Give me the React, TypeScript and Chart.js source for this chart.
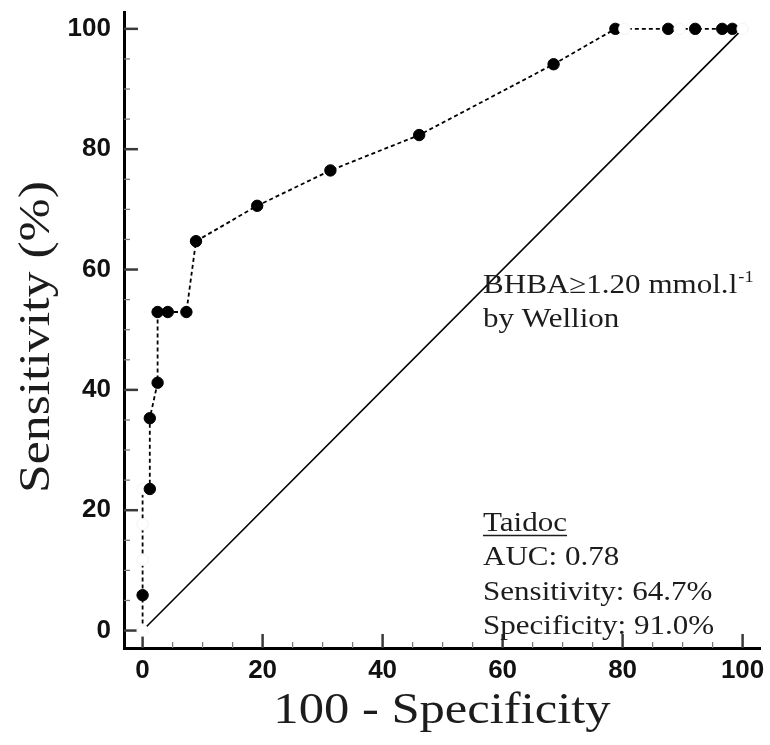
import { useEffect, useRef } from 'react';
import { Chart, registerables } from 'chart.js';

Chart.register(...registerables);

// ROC curve (Taidoc vs BHBA ≥ 1.20 mmol/l by Wellion)
const fprValues = [0, 0, 0, 0, 0, 1.2, 1.2, 2.5, 2.5, 4.2, 7.3, 8.9, 19.1, 31.3, 46.1, 68.5, 78.8, 80.3, 87.6, 89.5, 92.1, 96.6, 98.3, 100];
const sensValues = [0, 5.88, 11.76, 17.65, 23.53, 23.53, 35.29, 41.18, 52.94, 52.94, 52.94, 64.71, 70.59, 76.47, 82.35, 94.12, 100, 100, 100, 100, 100, 100, 100, 100];
const pointFilled = [false, true, false, false, false, true, true, true, true, true, true, true, true, true, true, true, true, false, true, false, true, true, true, false];

// reference (chance) line
const diagX = [0, 100];
const diagY = [0, 100];

const tickLabelValues = [0, 20, 40, 60, 80, 100];
const tickMarkValues = [0, 5, 10, 15, 20, 25, 30, 35, 40, 45, 50, 55, 60, 65, 70, 75, 80, 85, 90, 95, 100];

const xTitle = '100 - Specificity';
const yTitle = 'Sensitivity (%)';
const refLine1 = 'BHBA\u22651.20 mmol.l';
const refLine1Sup = '-1';
const refLine2 = 'by Wellion';
const deviceName = 'Taidoc';
const statLines = ['AUC: 0.78', 'Sensitivity: 64.7%', 'Specificity: 91.0%'];

const SERIF = '"Liberation Serif", "Times New Roman", serif';
const HSCALE = 1.15;
const TEXT_COLOR = '#1c1c1c';

function drawText(ctx: CanvasRenderingContext2D, text: string, x: number, y: number, size: number, align: CanvasTextAlign = 'left') {
  ctx.save();
  ctx.font = `${size}px ${SERIF}`;
  ctx.fillStyle = TEXT_COLOR;
  ctx.textAlign = align;
  ctx.textBaseline = 'alphabetic';
  ctx.translate(x, y);
  ctx.scale(HSCALE, 1);
  ctx.fillText(text, 0, 0);
  ctx.restore();
}

function textWidth(ctx: CanvasRenderingContext2D, text: string, size: number) {
  ctx.save();
  ctx.font = `${size}px ${SERIF}`;
  const w = ctx.measureText(text).width * HSCALE;
  ctx.restore();
  return w;
}

const decorPlugin = {
  id: 'decor',
  beforeDatasetsDraw(chart: any) {
    const { ctx, chartArea, scales } = chart;
    const x = scales.x;
    const y = scales.y;
    ctx.save();
    for (const v of tickMarkValues) {
      const major = v % 20 === 0;
      ctx.strokeStyle = major ? '#3a3a3a' : '#7a7a7a';
      ctx.lineWidth = major ? 2.5 : 1.3;
      const len = major ? 14 : 6;
      const px = x.getPixelForValue(v);
      ctx.beginPath();
      ctx.moveTo(px, chartArea.bottom);
      ctx.lineTo(px, chartArea.bottom - len);
      ctx.stroke();
      const py = y.getPixelForValue(v);
      ctx.beginPath();
      ctx.moveTo(chartArea.left, py);
      ctx.lineTo(chartArea.left + len, py);
      ctx.stroke();
    }
    ctx.restore();
  },
  afterDraw(chart: any) {
    const { ctx, chartArea } = chart;
    // axis titles
    const cx = (chartArea.left + chartArea.right) / 2;
    drawText(ctx, xTitle, cx, 723, 44, 'center');
    ctx.save();
    ctx.translate(49, (chartArea.top + chartArea.bottom) / 2 + 7);
    ctx.rotate(-Math.PI / 2);
    drawText(ctx, yTitle, 0, 0, 45, 'center');
    ctx.restore();

    // annotations
    const ax = 483;
    drawText(ctx, refLine1, ax, 293, 27);
    const w1 = textWidth(ctx, refLine1, 27);
    drawText(ctx, refLine1Sup, ax + w1 + 1, 282, 16);
    drawText(ctx, refLine2, ax, 327, 27);

    drawText(ctx, deviceName, ax, 531, 27);
    const wd = textWidth(ctx, deviceName, 27);
    ctx.save();
    ctx.strokeStyle = TEXT_COLOR;
    ctx.lineWidth = 1.5;
    ctx.beginPath();
    ctx.moveTo(ax, 535.5);
    ctx.lineTo(ax + wd, 535.5);
    ctx.stroke();
    ctx.restore();

    statLines.forEach((line, i) => {
      drawText(ctx, line, ax, 565 + i * 34.5, 27);
    });
  },
};

export default function App() {
  const canvasRef = useRef<HTMLCanvasElement | null>(null);

  useEffect(() => {
    const canvas = canvasRef.current;
    if (!canvas) return;
    const rocData = fprValues.map((v, i) => ({ x: v, y: sensValues[i] }));
    const diagData = diagX.map((v, i) => ({ x: v, y: diagY[i] }));

    const tickFont = { family: '"Liberation Sans", Arial, sans-serif', weight: 'bold' as const, size: 26 };

    const zeroPadding = (scale: any) => {
      scale.paddingTop = 0;
      scale.paddingBottom = 0;
      scale.paddingLeft = 0;
      scale.paddingRight = 0;
    };

    const chart = new Chart(canvas, {
      type: 'scatter',
      data: {
        datasets: [
          {
            label: 'Taidoc',
            data: rocData,
            showLine: true,
            borderColor: '#000',
            borderWidth: 1.8,
            borderDash: [4, 3],
            tension: 0,
            pointRadius: 5.7,
            pointHoverRadius: 5.7,
            pointBorderWidth: 1,
            pointBackgroundColor: pointFilled.map((f) => (f ? '#000' : '#fff')),
            pointBorderColor: pointFilled.map((f) => (f ? '#000' : '#f2f2f2')),
            clip: false as any,
          },
          {
            label: 'Reference',
            data: diagData,
            showLine: true,
            borderColor: '#000',
            borderWidth: 1.6,
            pointRadius: 0,
            tension: 0,
          },
        ],
      },
      options: {
        animation: false,
        responsive: false,
        maintainAspectRatio: false,
        devicePixelRatio: 1,
        events: [],
        layout: { padding: { top: 12, right: 10, left: 0, bottom: 0 } },
        plugins: {
          legend: { display: false },
          tooltip: { enabled: false },
          title: { display: false },
        },
        scales: {
          x: {
            type: 'linear',
            min: -3.1,
            max: 102.9,
            grid: { display: false, drawTicks: false, tickLength: 0 },
            border: { display: true, color: '#000', width: 3 },
            ticks: { font: tickFont, color: '#111', padding: 7, maxRotation: 0 },
            afterBuildTicks: (scale: any) => {
              scale.ticks = tickLabelValues.map((v) => ({ value: v }));
            },
            afterFit: (scale: any) => {
              scale.height = 97;
              zeroPadding(scale);
            },
          },
          y: {
            type: 'linear',
            min: -2.9,
            max: 102.8,
            grid: { display: false, drawTicks: false, tickLength: 0 },
            border: { display: true, color: '#000', width: 3 },
            ticks: { font: tickFont, color: '#111', padding: 13 },
            afterBuildTicks: (scale: any) => {
              scale.ticks = tickLabelValues.map((v) => ({ value: v }));
            },
            afterFit: (scale: any) => {
              scale.width = 124;
              zeroPadding(scale);
            },
          },
        },
      },
      plugins: [decorPlugin],
    });

    return () => {
      chart.destroy();
    };
  }, []);

  return (
    <div style={{ position: 'absolute', left: 0, top: 0, width: 770, height: 745, background: '#fff' }}>
      <canvas ref={canvasRef} width={770} height={745} style={{ display: 'block', width: 770, height: 745 }} />
    </div>
  );
}
